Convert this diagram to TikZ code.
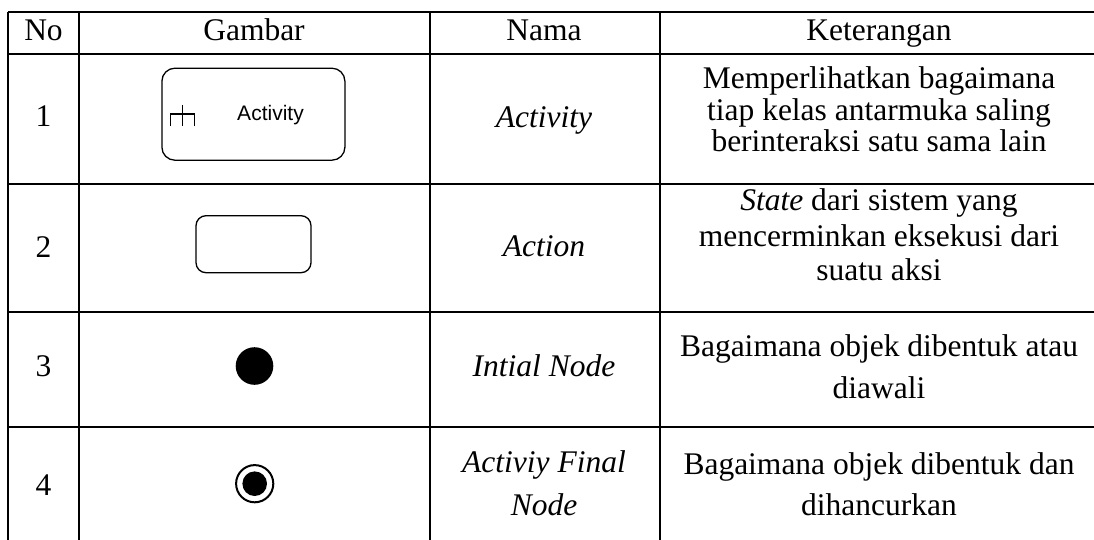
\documentclass[tikz,border=0pt]{standalone}
\usepackage{fontspec}
\setmainfont{Liberation Serif}
\newfontfamily\arialfont{Liberation Sans}
\begin{document}
\begin{tikzpicture}[x=1pt,y=-1pt,
  grid/.style={line width=1.5pt,black},
  txt/.style={anchor=base,inner sep=0pt,font=\fontsize{31.5}{31.5}\selectfont},
  itxt/.style={txt,font=\fontsize{31.5}{31.5}\selectfont\itshape},
  sym/.style={draw,line width=1.3pt,rounded corners=#1,inner sep=0pt},
]
\useasboundingbox (0,0) rectangle (1094,540);
% table grid
\draw[grid] (8,12) -- (1094,12);
\foreach \yy in {54,184,312,427} \draw[grid] (8,\yy) -- (1094,\yy);
\foreach \xx in {8,79,430,660} \draw[grid] (\xx,12) -- (\xx,540);
% header
\node[txt] (hNo) at (43.5,40.5) {No};
\node[txt] (hG) at (254,40.5) {Gambar};
\node[txt] (hN) at (544,40.5) {Nama};
\node[txt] (hK) at (879,40.5) {Keterangan};
% row 1
\node[txt] (n1) at (43.5,127) {1};
\node[sym=13,minimum width=183pt,minimum height=92pt] (act) at (253.4,114.2) {};
\node[anchor=base,inner sep=0pt,font=\arialfont\fontsize{21}{21}\selectfont] (actt) at (270.5,121) {Activity};
\draw[line width=1.3pt] (170.7,126) -- (170.7,114) -- (194.3,114) -- (194.3,126);
\draw[line width=1.3pt] (182.5,105) -- (182.5,126);
\node[itxt] (m1) at (544,128) {Activity};
\node[txt] (k1a) at (879,89) {Memperlihatkan bagaimana};
\node[txt] (k1b) at (879,120.5) {tiap kelas antarmuka saling};
\node[txt] (k1c) at (879,152) {berinteraksi satu sama lain};
% row 2
\node[txt] (n2) at (43.5,257) {2};
\node[sym=10,minimum width=115pt,minimum height=57pt] (actn) at (253.5,244.2) {};
\node[itxt] (m2) at (544,256) {Action};
\node[txt] (k2a) at (879,211) {\textit{State} dari sistem yang};
\node[txt] (k2b) at (879,246) {mencerminkan eksekusi dari};
\node[txt] (k2c) at (879,280) {suatu aksi};
% row 3
\node[txt] (n3) at (43.5,376.5) {3};
\node[circle,fill=black,minimum size=37.6pt,inner sep=0pt] (init) at (254.5,366) {};
\node[itxt] (m3) at (544,376.5) {Intial Node};
\node[txt] (k3a) at (879,356) {Bagaimana objek dibentuk atau};
\node[txt] (k3b) at (879,398) {diawali};
% row 4
\node[txt] (n4) at (43.5,495.5) {4};
\node[circle,draw,line width=2pt,minimum size=37.2pt,inner sep=0pt] (fin) at (254.7,483.7) {};
\node[circle,fill=black,minimum size=24.6pt,inner sep=0pt] (finin) at (254.7,483.7) {};
\node[itxt] (m4a) at (544,472.5) {Activiy Final};
\node[itxt] (m4b) at (544,515) {Node};
\node[txt] (k4a) at (879,474) {Bagaimana objek dibentuk dan};
\node[txt] (k4b) at (879,515) {dihancurkan};
\end{tikzpicture}
\end{document}
